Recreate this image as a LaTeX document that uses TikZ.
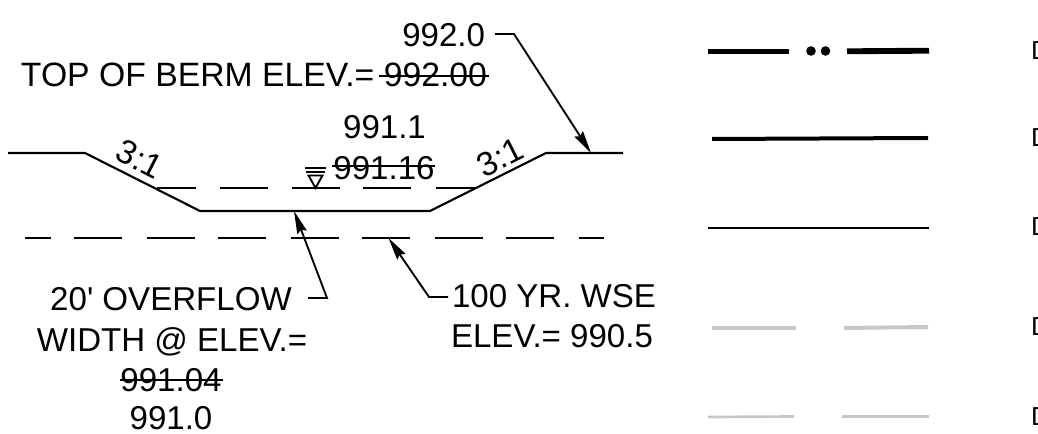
\documentclass[tikz,border=0pt]{standalone}
\usepackage{fontspec}
\newfontfamily\lib{Liberation Sans}
\usetikzlibrary{arrows.meta}
\tikzset{
  lbl/.style={inner sep=0pt,outer sep=0pt,anchor=base,font=\lib\fontsize{24.8}{30}\selectfont,text=black},
  lblw/.style={lbl,anchor=base west},
  lble/.style={lbl,anchor=base east},
  smalld/.style={inner sep=0pt,outer sep=0pt,anchor=base west,font=\lib\fontsize{19.5}{24}\selectfont},
  ln/.style={line width=1.6pt,black},
  thin line/.style={line width=1.4pt,black},
  leader/.style={line width=1.4pt,black,line join=miter,-{Stealth[length=17pt,width=7.5pt,inset=2pt]}},
  strike/.style={line width=1.3pt,black},
  leg a/.style={line width=4.4pt,black},
  leg b/.style={line width=3pt,black},
  leg c/.style={line width=2pt,black},
  leg d/.style={line width=3pt,black!22},
  leg e/.style={line width=2pt,black!22}
}
\begin{document}
\begin{tikzpicture}[x=0.75pt,y=-0.75pt]
\useasboundingbox (0,0) rectangle (1038,434);
% profile
\coordinate (p1) at (8,153);
\coordinate (p2) at (85,153);
\coordinate (p3) at (200,211);
\coordinate (p4) at (430,211);
\coordinate (p5) at (546,153);
\coordinate (p6) at (623,153);
\draw[ln,line join=miter] (p1)--(p2)--(p3)--(p4)--(p5)--(p6);
% water dashes
\foreach \a/\b in {157/196,220/268,292/340,363/411,436/476}
  \draw[thin line] (\a,188)--(\b,188);
\foreach \a/\b in {25/51,74/122,147/195,218/266,291/339,362/410,435/483,506/554,579/604}
  \draw[thin line] (\a,238)--(\b,238);
% water symbol
\draw[thin line] (305,168)--(326,168);
\draw[thin line] (306,172)--(325,172);
\draw[thin line,line join=miter] (308.5,175.5)--(322.5,175.5)--(315.5,188)--cycle;
% texts
\node[lble] (t9920) at (485,47) {992.0};
\node[lblw,font=\lib\fontsize{25.3}{30}\selectfont] (ttop) at (21,87) {TOP OF BERM ELEV.= 992.00};
\node[lbl] (t9911) at (384.5,139) {991.1};
\node[lbl] (t99116) at (384,180) {991.16};
\node[lbl] (tovr) at (171,311) {20' OVERFLOW};
\node[lbl] (twid) at (172,352) {WIDTH @ ELEV.=};
\node[lbl] (t99104) at (171,392) {991.04};
\node[lbl] (t9910) at (171,429) {991.0};
\node[lblw] (tyr) at (452,308) {100 YR. WSE};
\node[lblw] (tel) at (451,348) {ELEV.= 990.5};
\node[lbl,anchor=center,rotate=-27,font=\lib\fontsize{25.3}{30}\selectfont] (sl) at (139.5,159) {3:1};
\node[lbl,anchor=center,rotate=27,font=\lib\fontsize{25.3}{30}\selectfont] (sr) at (500,157.5) {3:1};
% strikes
\coordinate (s1a) at (379,76); \coordinate (s1b) at (489,76);
\coordinate (s2a) at (332,166); \coordinate (s2b) at (435,166);
\coordinate (s3a) at (120,380); \coordinate (s3b) at (223,380);
\draw[strike] (s1a)--(s1b);
\draw[strike] (s2a)--(s2b);
\draw[strike] (s3a)--(s3b);
% leaders
\coordinate (la0) at (495,34); \coordinate (la1) at (514,34); \coordinate (la2) at (591,153);
\coordinate (lb0) at (308,298); \coordinate (lb1) at (327,298); \coordinate (lb2) at (294,211);
\coordinate (lc0) at (448,297); \coordinate (lc1) at (429,297); \coordinate (lc2) at (388.5,238);
\draw[leader] (la0)--(la1)--(la2);
\draw[leader] (lb0)--(lb1)--(lb2);
\draw[leader] (lc0)--(lc1)--(lc2);
% legend
\draw[leg a] (708,51.5)--(789,51.5);
\fill (811,51) circle[radius=3.6pt];
\fill (825.5,51) circle[radius=3.6pt];
\draw[leg a] (847,51.3)--(929,50.7);
\draw[leg b] (712,139)--(928,138);
\draw[leg c] (708,228)--(929,228);
\draw[leg d] (712,328)--(796,328);
\draw[leg d] (844,328)--(928,327);
\draw[leg e] (708,417)--(794,416.5);
\draw[leg e] (842,416.5)--(929,416.5);
\node[smalld] (d1) at (1031,60) {D};
\node[smalld] (d2) at (1031,147) {D};
\node[smalld] (d3) at (1031,236) {D};
\node[smalld] (d4) at (1031,336) {D};
\node[smalld] (d5) at (1031,425) {D};
\end{tikzpicture}
\end{document}
